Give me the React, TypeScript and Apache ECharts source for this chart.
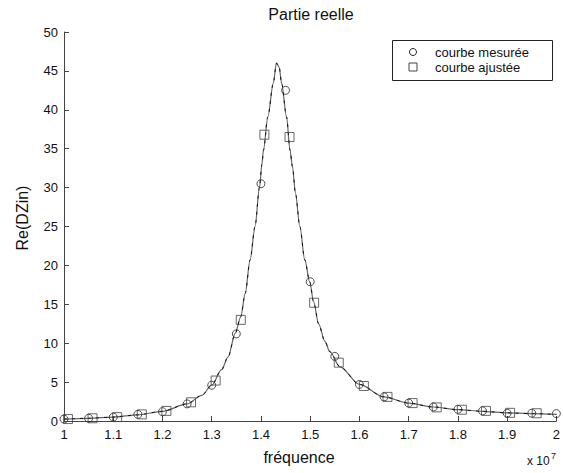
import React, { useEffect, useRef } from "react";
import * as echarts from "echarts";

// x values in units of 10^7 Hz
const curveX = [
  1.0, 1.05, 1.1, 1.15, 1.2, 1.25, 1.28, 1.3, 1.32, 1.333, 1.348, 1.359, 1.368, 1.378, 1.388,
  1.397, 1.402, 1.405, 1.414, 1.425, 1.4315, 1.437, 1.442, 1.452, 1.459, 1.464, 1.47, 1.479,
  1.489, 1.499, 1.507, 1.517, 1.53, 1.54, 1.56, 1.6, 1.65, 1.7, 1.75, 1.8, 1.85, 1.9, 1.95, 2.0,
];
const fittedCurve = [
  0.25, 0.35, 0.5, 0.8, 1.25, 2.2, 3.3, 4.6, 6.6, 8.2, 11.3, 13.4, 16.4, 20.7, 25.0,
  30.0, 33.0, 34.8, 39.1, 43.4, 46.0, 45.5, 43.4, 39.1, 34.8, 32.7, 29.3, 25.0,
  20.7, 17.9, 15.3, 12.5, 10.2, 8.9, 7.0, 4.7, 3.1, 2.3, 1.8, 1.45, 1.25, 1.05, 0.95, 0.85,
];
const measuredCurve = [
  0.25, 0.35, 0.5, 0.8, 1.25, 2.2, 3.3, 4.6, 6.6, 8.2, 11.3, 13.4, 16.4, 20.7, 25.0,
  30.0, 33.0, 34.8, 39.1, 43.4, 46.0, 45.5, 43.4, 39.1, 34.8, 32.7, 29.3, 25.0,
  20.7, 17.9, 15.3, 12.5, 10.2, 8.9, 7.0, 4.7, 3.1, 2.3, 1.8, 1.45, 1.25, 1.05, 0.95, 0.85,
];

const measuredX = [
  1.0, 1.05, 1.1, 1.15, 1.2, 1.25, 1.3, 1.35, 1.4, 1.45, 1.5, 1.55, 1.6, 1.65, 1.7, 1.75,
  1.8, 1.85, 1.9, 1.95, 2.0,
];
const measuredY = [
  0.25, 0.35, 0.5, 0.85, 1.2, 2.2, 4.6, 11.2, 30.5, 42.5, 17.9, 8.3, 4.7, 3.1, 2.3, 1.8,
  1.5, 1.3, 1.0, 1.0, 0.95,
];

const fittedX = [
  1.008, 1.058, 1.108, 1.158, 1.208, 1.258, 1.308, 1.359, 1.407, 1.458, 1.508, 1.558, 1.609,
  1.657, 1.708, 1.757, 1.808, 1.857, 1.906, 1.96,
];
const fittedY = [
  0.25, 0.35, 0.5, 0.85, 1.3, 2.4, 5.2, 13.0, 36.8, 36.5, 15.2, 7.5, 4.5, 3.1, 2.3, 1.75,
  1.45, 1.3, 1.05, 1.0,
];

const xTicks = [1, 1.1, 1.2, 1.3, 1.4, 1.5, 1.6, 1.7, 1.8, 1.9, 2];
const yTicks = [0, 5, 10, 15, 20, 25, 30, 35, 40, 45, 50];

const FONT = "'Liberation Sans', Arial, sans-serif";

export default function App() {
  const ref = useRef<HTMLDivElement>(null);

  useEffect(() => {
    if (!ref.current) return;
    const chart = echarts.init(ref.current, undefined, { renderer: "svg" });
    const pairs = (xs: number[], ys: number[]) => xs.map((x, i) => [x, ys[i]]);

    chart.setOption({
      animation: false,
      backgroundColor: "#ffffff",
      textStyle: { fontFamily: FONT },
      grid: { left: 64, right: 4, top: 32, bottom: 52, containLabel: false },
      xAxis: {
        type: "value",
        min: xTicks[0],
        max: xTicks[xTicks.length - 1],
        interval: 0.1,
        axisLine: { show: true, lineStyle: { color: "#444", width: 1 } },
        axisTick: { show: true, inside: true, length: 5, lineStyle: { color: "#444" } },
        axisLabel: {
          color: "#111",
          fontSize: 13,
          fontFamily: FONT,
          margin: 7,
          formatter: (v: number) => String(Math.round(v * 10) / 10),
        },
        splitLine: { show: false },
      },
      yAxis: {
        type: "value",
        min: yTicks[0],
        max: yTicks[yTicks.length - 1],
        interval: 5,
        axisLine: { show: true, lineStyle: { color: "#444", width: 1 } },
        axisTick: { show: true, inside: true, length: 5, lineStyle: { color: "#444" } },
        axisLabel: { color: "#111", fontSize: 13, fontFamily: FONT, margin: 6 },
        splitLine: { show: false },
      },
      series: [
        {
          name: "courbe ajustée (ligne)",
          type: "line",
          data: pairs(curveX, fittedCurve),
          showSymbol: false,
          smooth: 0.3,
          smoothMonotone: "x",
          lineStyle: { color: "#666", width: 1.2 },
          z: 2,
        },
        {
          name: "courbe mesurée (ligne)",
          type: "line",
          data: pairs(curveX, measuredCurve),
          showSymbol: false,
          smooth: 0.3,
          smoothMonotone: "x",
          lineStyle: { color: "#111", width: 1, type: [3, 5] },
          z: 3,
        },
        {
          name: "courbe mesurée",
          type: "scatter",
          data: pairs(measuredX, measuredY),
          symbol: "circle",
          symbolSize: 8,
          itemStyle: { color: "transparent", borderColor: "#222", borderWidth: 1 },
          z: 4,
        },
        {
          name: "courbe ajustée",
          type: "scatter",
          data: pairs(fittedX, fittedY),
          symbol: "rect",
          symbolSize: 9,
          itemStyle: { color: "transparent", borderColor: "#444", borderWidth: 1 },
          z: 4,
        },
      ],
      graphic: [
        {
          type: "text",
          x: 311,
          y: 14,
          style: {
            text: "Partie reelle",
            fontSize: 16,
            fontFamily: FONT,
            fill: "#111",
            textAlign: "center",
            textVerticalAlign: "middle",
          },
        },
        {
          type: "text",
          x: 22,
          y: 218,
          rotation: Math.PI / 2,
          style: {
            text: "Re(DZin)",
            fontSize: 16,
            fontFamily: FONT,
            fill: "#111",
            textAlign: "center",
            textVerticalAlign: "middle",
          },
        },
        {
          type: "text",
          x: 299,
          y: 457,
          style: {
            text: "fréquence",
            fontSize: 16,
            fontFamily: FONT,
            fill: "#111",
            textAlign: "center",
            textVerticalAlign: "middle",
          },
        },
        {
          type: "text",
          x: 527,
          y: 467,
          style: {
            text: "x 10",
            fontSize: 12,
            fontFamily: FONT,
            fill: "#111",
            textAlign: "left",
            textVerticalAlign: "bottom",
          },
        },
        {
          type: "text",
          x: 551,
          y: 460,
          style: {
            text: "7",
            fontSize: 9,
            fontFamily: FONT,
            fill: "#111",
            textAlign: "left",
            textVerticalAlign: "bottom",
          },
        },
        {
          type: "group",
          x: 392,
          y: 40,
          children: [
            {
              type: "rect",
              shape: { x: 0.5, y: 0.5, width: 160, height: 40 },
              style: { fill: "#fff", stroke: "#222", lineWidth: 1 },
            },
            {
              type: "circle",
              shape: { cx: 21, cy: 12, r: 3.5 },
              style: { fill: "none", stroke: "#222", lineWidth: 1 },
            },
            {
              type: "rect",
              shape: { x: 17, y: 23, width: 8, height: 8 },
              style: { fill: "none", stroke: "#444", lineWidth: 1 },
            },
            {
              type: "text",
              x: 43,
              y: 12,
              style: {
                text: "courbe mesurée",
                fontSize: 13,
                fontFamily: FONT,
                fill: "#111",
                textAlign: "left",
                textVerticalAlign: "middle",
              },
            },
            {
              type: "text",
              x: 43,
              y: 27,
              style: {
                text: "courbe ajustée",
                fontSize: 13,
                fontFamily: FONT,
                fill: "#111",
                textAlign: "left",
                textVerticalAlign: "middle",
              },
            },
          ],
        },
      ],
    });

    return () => chart.dispose();
  }, []);

  return (
    <div
      ref={ref}
      style={{ position: "fixed", left: 0, top: 0, width: 563, height: 473, background: "#fff" }}
    />
  );
}
